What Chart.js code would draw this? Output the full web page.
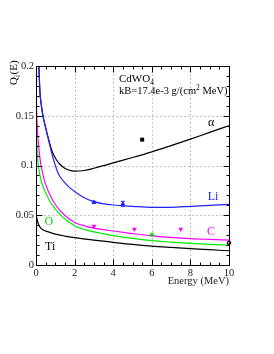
<!DOCTYPE html>
<html>
<head>
<meta charset="utf-8">
<script src="https://cdn.jsdelivr.net/npm/chart.js@4.4.1/dist/chart.umd.min.js"></script>
<style>
  html, body { margin: 0; padding: 0; background: #fff; }
</style>
</head>
<body>
<canvas id="qChart" width="274" height="354"></canvas>
<script>
// curves: energy (MeV) and quenching factor Q_i(E)
const alphaE = [0.15, 0.2, 0.28, 0.36, 0.5, 0.67, 0.82, 1.0, 1.2, 1.45, 1.7, 2.0, 2.5, 3, 3.5, 4, 5, 6, 7, 8, 9, 10];
const alphaQ = [0.2, 0.175, 0.16, 0.15, 0.138, 0.125, 0.115, 0.1075, 0.102, 0.0978, 0.0955, 0.0943, 0.095, 0.0972, 0.0998, 0.1026, 0.108, 0.1137, 0.12, 0.1265, 0.1333, 0.14];

const liE = [0.15, 0.2, 0.28, 0.36, 0.5, 0.67, 0.82, 0.97, 1.1, 1.24, 1.5, 1.76, 2, 2.5, 3, 3.5, 4, 5, 6, 7, 8, 9, 10];
const liQ = [0.2, 0.175, 0.16, 0.15, 0.138, 0.124, 0.112, 0.102, 0.0945, 0.089, 0.0825, 0.0775, 0.0738, 0.0675, 0.0637, 0.0615, 0.0603, 0.059, 0.058, 0.058, 0.059, 0.06, 0.061];

const cE = [0.01, 0.05, 0.1, 0.2, 0.3, 0.4, 0.5, 0.67, 0.85, 1.0, 1.2, 1.5, 2, 2.5, 3, 4, 5, 6, 7, 8, 9, 10];
const cQ = [0.168, 0.145, 0.128, 0.108, 0.096, 0.0875, 0.081, 0.0725, 0.0655, 0.0608, 0.0557, 0.0498, 0.0428, 0.0393, 0.037, 0.0342, 0.0316, 0.0293, 0.0277, 0.0265, 0.0257, 0.025];

const oE = [0.01, 0.05, 0.1, 0.2, 0.28, 0.4, 0.55, 0.75, 0.97, 1.2, 1.5, 2, 2.5, 3, 4, 5, 6, 7, 8, 9, 10];
const oQ = [0.14, 0.118, 0.104, 0.0905, 0.084, 0.077, 0.0705, 0.063, 0.0568, 0.0518, 0.0462, 0.0395, 0.0358, 0.0333, 0.0296, 0.0267, 0.0245, 0.023, 0.0218, 0.0208, 0.02];

const tiE = [0.01, 0.08, 0.15, 0.25, 0.4, 0.6, 1.0, 1.5, 2, 3, 4, 5, 6, 7, 8, 9, 10];
const tiQ = [0.05, 0.044, 0.04, 0.037, 0.035, 0.0335, 0.031, 0.029, 0.0275, 0.025, 0.0228, 0.0207, 0.019, 0.0177, 0.0165, 0.0154, 0.0143];

// measured points
const alphaPtE = [5.5];
const alphaPtQ = [0.126];
const liPtE = [3, 4.5];
const liPtQ = [0.063, 0.0615];
const liPtErr = [0.001, 0.0025];
const cPtE = [3, 5.1, 7.5];
const cPtQ = [0.039, 0.036, 0.036];
const oPtE = [6];
const oPtQ = [0.0307];
const tiPtE = [10];
const tiPtQ = [0.0223];

const xTicks = [0, 2, 4, 6, 8, 10];
const yTicks = [0, 0.05, 0.1, 0.15, 0.2];

const serif = '"Liberation Serif", "DejaVu Serif", serif';

let pts = (xs, ys) => xs.map((x, i) => ({ x: x, y: ys[i] }));

let curve = (xs, ys, color, order) => ({
    data: pts(xs, ys),
    showLine: true,
    borderColor: color,
    borderWidth: 1.2,
    pointRadius: 0,
    cubicInterpolationMode: 'monotone',
    order: order
});

let starCanvas = function (color, r) {
    const c = document.createElement('canvas');
    c.width = c.height = 2 * r + 2;
    const g = c.getContext('2d');
    g.fillStyle = color;
    g.beginPath();
    for (let k = 0; k < 10; k++) {
        const a = -Math.PI / 2 + k * Math.PI / 5;
        const rr = k % 2 ? r * 0.45 : r;
        g.lineTo(r + 1 + rr * Math.cos(a), r + 1 + rr * Math.sin(a));
    }
    g.closePath();
    g.fill();
    return c;
};

// ROOT-like frame: dashed grid, inside ticks on four sides, error bars, labels
const rootFrame = {
    id: 'rootFrame',
    beforeDatasetsDraw(chart) {
        const { ctx, chartArea: a, scales: { x, y } } = chart;
        ctx.save();
        ctx.strokeStyle = '#c4c4c4';
        ctx.lineWidth = 1;
        ctx.setLineDash([2, 2]);
        xTicks.slice(1, -1).forEach(v => {
            const px = Math.round(x.getPixelForValue(v)) + 0.5;
            ctx.beginPath(); ctx.moveTo(px, a.top); ctx.lineTo(px, a.bottom); ctx.stroke();
        });
        yTicks.slice(1, -1).forEach(v => {
            const py = Math.round(y.getPixelForValue(v)) + 0.5;
            ctx.beginPath(); ctx.moveTo(a.left, py); ctx.lineTo(a.right, py); ctx.stroke();
        });
        ctx.restore();
    },
    afterDatasetsDraw(chart) {
        const { ctx, chartArea: a, scales: { x, y } } = chart;
        ctx.save();

        // error bars on Li points
        ctx.strokeStyle = '#2020ff';
        ctx.lineWidth = 1;
        liPtE.forEach((e, i) => {
            const px = x.getPixelForValue(e);
            const y1 = y.getPixelForValue(liPtQ[i] - liPtErr[i]);
            const y2 = y.getPixelForValue(liPtQ[i] + liPtErr[i]);
            ctx.beginPath();
            ctx.moveTo(px, y1); ctx.lineTo(px, y2);
            ctx.moveTo(px - 2, y1); ctx.lineTo(px + 2, y1);
            ctx.moveTo(px - 2, y2); ctx.lineTo(px + 2, y2);
            ctx.stroke();
        });

        // frame
        ctx.strokeStyle = '#000';
        ctx.lineWidth = 1;
        const L = Math.round(a.left) + 0.5, R = Math.round(a.right) + 0.5;
        const T = Math.round(a.top) + 0.5, B = Math.round(a.bottom) + 0.5;
        ctx.strokeRect(L, T, R - L, B - T);

        // ticks
        ctx.beginPath();
        for (let k = 0; k <= 20; k++) {
            const v = k * 0.5;
            const len = k % 4 === 0 ? 6 : 3;
            const px = Math.round(x.getPixelForValue(v)) + 0.5;
            ctx.moveTo(px, B); ctx.lineTo(px, B - len);
            ctx.moveTo(px, T); ctx.lineTo(px, T + len);
        }
        for (let k = 0; k <= 20; k++) {
            const v = k * 0.01;
            const len = k % 5 === 0 ? 6 : 3;
            const py = Math.round(y.getPixelForValue(v)) + 0.5;
            ctx.moveTo(L, py); ctx.lineTo(L + len, py);
            ctx.moveTo(R, py); ctx.lineTo(R - len, py);
        }
        ctx.stroke();

        // curve labels
        ctx.textAlign = 'center';
        ctx.textBaseline = 'middle';
        ctx.font = '12px ' + serif;
        const lab = (t, c, e, q) => {
            ctx.fillStyle = c;
            ctx.fillText(t, x.getPixelForValue(e), y.getPixelForValue(q));
        };
        lab('\u03b1', '#000', 9.07, 0.1425);
        lab('Li', '#2020ff', 9.17, 0.068);
        lab('C', '#ff00ff', 9.07, 0.0335);
        lab('O', '#00e000', 0.67, 0.043);
        lab('Ti', '#000', 0.73, 0.018);

        // crystal and Birks factor
        ctx.fillStyle = '#000';
        ctx.textAlign = 'left';
        ctx.textBaseline = 'alphabetic';
        let tx = 119;
        ctx.font = '11px ' + serif;
        ctx.fillText('CdWO', tx, 82);
        tx += ctx.measureText('CdWO').width;
        ctx.font = '7.5px ' + serif;
        ctx.fillText('4', tx, 85);
        tx = 119;
        ctx.font = '10.5px ' + serif;
        ctx.fillText('kB=17.4e-3 g/(cm', tx, 93.5);
        tx += ctx.measureText('kB=17.4e-3 g/(cm').width;
        ctx.font = '7.5px ' + serif;
        ctx.fillText('2', tx, 89.5);
        tx += ctx.measureText('2').width;
        ctx.font = '10.5px ' + serif;
        ctx.fillText(' MeV)', tx, 93.5);

        // y title Q_i(E), rotated
        ctx.translate(17, 85);
        ctx.rotate(-Math.PI / 2);
        ctx.font = '11px ' + serif;
        ctx.fillText('Q', 0, 0);
        let w = ctx.measureText('Q').width;
        ctx.font = '7.5px ' + serif;
        ctx.fillText('i', w, 2.5);
        w += ctx.measureText('i').width + 0.5;
        ctx.font = '11px ' + serif;
        ctx.fillText('(E)', w, 0);

        ctx.restore();
    }
};

new Chart(document.getElementById('qChart'), {
    type: 'scatter',
    data: {
        datasets: [
            curve(alphaE, alphaQ, '#000', 5),
            curve(liE, liQ, '#2020ff', 4),
            curve(cE, cQ, '#ff00ff', 3),
            curve(oE, oQ, '#00ee00', 2),
            curve(tiE, tiQ, '#000', 1),
            { data: pts(alphaPtE, alphaPtQ), pointStyle: 'rect', pointRadius: 2.8, backgroundColor: '#000', borderColor: '#000', borderWidth: 0, clip: false, order: 0 },
            { data: pts(liPtE, liPtQ), pointStyle: 'triangle', pointRadius: 2.8, backgroundColor: '#2020ff', borderColor: '#2020ff', borderWidth: 0, clip: false, order: 0 },
            { data: pts(cPtE, cPtQ), pointStyle: 'triangle', rotation: 180, pointRadius: 2.8, backgroundColor: '#ff00ff', borderColor: '#ff00ff', borderWidth: 0, clip: false, order: 0 },
            { data: pts(oPtE, oPtQ), pointStyle: starCanvas('#00dd00', 3.2), pointRadius: 3, clip: false, order: 0 },
            { data: pts(tiPtE, tiPtQ), pointStyle: 'circle', pointRadius: 1.8, backgroundColor: '#999', borderColor: '#000', borderWidth: 1, clip: false, order: 0 }
        ]
    },
    options: {
        responsive: false,
        animation: false,
        events: [],
        layout: { padding: { top: 66, right: 45, left: 0, bottom: 0 } },
        plugins: { legend: { display: false }, tooltip: { enabled: false } },
        scales: {
            x: {
                type: 'linear',
                min: 0,
                max: 10,
                afterBuildTicks: (s) => { s.ticks = xTicks.map(v => ({ value: v })); },
                afterFit: (s) => { s.height = 89; },
                grid: { display: false, drawTicks: false },
                border: { display: false },
                ticks: { color: '#222', padding: 2, maxRotation: 0, font: { family: serif, size: 10.5 } },
                title: {
                    display: true,
                    text: 'Energy (MeV)',
                    align: 'end',
                    color: '#222',
                    font: { family: serif, size: 10.5 },
                    padding: { top: 0, bottom: 66 }
                }
            },
            y: {
                min: 0,
                max: 0.2,
                afterBuildTicks: (s) => { s.ticks = yTicks.map(v => ({ value: v })); },
                afterFit: (s) => { s.width = 36; },
                grid: { display: false, drawTicks: false },
                border: { display: false },
                ticks: {
                    color: '#222',
                    padding: 2,
                    font: { family: serif, size: 10.5 },
                    callback: (v) => String(+v.toFixed(3))
                }
            }
        }
    },
    plugins: [rootFrame]
});
</script>
</body>
</html>
